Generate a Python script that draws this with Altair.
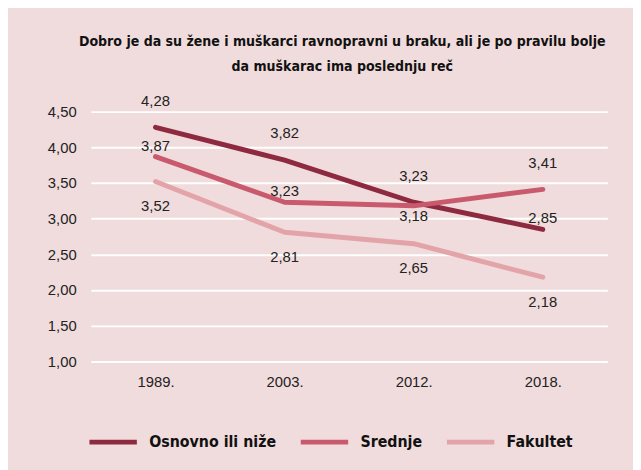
import altair as alt
import pandas as pd

years = ["1989.", "2003.", "2012.", "2018."]
series = ["Osnovno ili niže", "Srednje", "Fakultet"]
osnovno = [4.28, 3.82, 3.23, 2.85]
srednje = [3.87, 3.23, 3.18, 3.41]
fakultet = [3.52, 2.81, 2.65, 2.18]
# label placement relative to the line point
osnovno_pos = ["top", "top", "top", "upper"]
srednje_pos = ["upper", "upper", "lower", "top"]
fakultet_pos = ["bottom", "bottom", "bottom", "bottom"]
colors = ["#8e2a3f", "#c95a6d", "#e3a4a9"]
y_ticks = [1.0, 1.5, 2.0, 2.5, 3.0, 3.5, 4.0, 4.5]

rows = []
for name, vals, pos in zip(series, [osnovno, srednje, fakultet], [osnovno_pos, srednje_pos, fakultet_pos]):
    for yr, v, p in zip(years, vals, pos):
        rows.append({"year": yr, "series": name, "value": v, "pos": p})
df = pd.DataFrame(rows)

FONT = "Liberation Sans, Arial, sans-serif"
NARROW = "DejaVu Sans Condensed, Liberation Sans Narrow, Roboto, sans-serif"

x_scale = alt.Scale(type="point", padding=0.5)
y_scale = alt.Scale(domain=[1, 4.5], nice=False, zero=False)

x = alt.X("year:N", sort=years, title=None, scale=x_scale,
          axis=alt.Axis(domain=False, ticks=False, labelAngle=0, labelPadding=13,
                        labelFontSize=15, labelFont=FONT, labelColor="#222", grid=False))
y = alt.Y("value:Q", title=None, scale=y_scale,
          axis=alt.Axis(values=y_ticks, domain=False, ticks=False, labelPadding=15,
                        labelFontSize=15, labelFont=FONT, labelColor="#222", labelOverlap=False,
                        labelExpr="replace(format(datum.value, '.2f'), '.', ',')",
                        gridColor="white", gridWidth=2, gridOpacity=1))
color = alt.Color("series:N", sort=series,
                  scale=alt.Scale(domain=series, range=colors),
                  legend=alt.Legend(title=None, orient="none", direction="horizontal",
                                    legendX=-4, legendY=308, symbolType="stroke",
                                    symbolSize=2304, symbolStrokeWidth=5,
                                    labelFont=NARROW, labelFontSize=16, labelFontWeight="bold",
                                    labelColor="#111", labelOffset=10, columnPadding=14,
                                    padding=0))

lines = alt.Chart(df).mark_line(strokeWidth=5, strokeCap="round", strokeJoin="round").encode(
    x=x, y=y, color=color)

base_text = alt.Chart(df).transform_calculate(
    label="replace(format(datum.value, '.2f'), '.', ',')")
offsets = {"top": -27, "upper": -11, "lower": 10, "bottom": 25}
texts = []
for p, dy in offsets.items():
    texts.append(base_text.transform_filter(alt.datum.pos == p).mark_text(
        dy=dy, fontSize=15, font=FONT, color="#222", baseline="middle").encode(
        x=x, y=y, text="label:N"))

chart = alt.layer(lines, *texts).properties(
    width=523, height=253,
    autosize=alt.AutoSizeParams(type="none"),
    padding={"left": 84, "top": 102, "right": 26, "bottom": 107},
    background="#f0dcdc",
    title=alt.Title(["Dobro je da su žene i muškarci ravnopravni u braku, ali je po pravilu bolje",
                     "da muškarac ima poslednju reč"],
                    font=NARROW, fontSize=14.2, fontWeight="bold", color="#111",
                    lineHeight=25, anchor="middle", dx=-7, offset=20)
).configure_view(stroke=None)

chart.save("out.html", embed_options={"renderer": "svg", "actions": False})
